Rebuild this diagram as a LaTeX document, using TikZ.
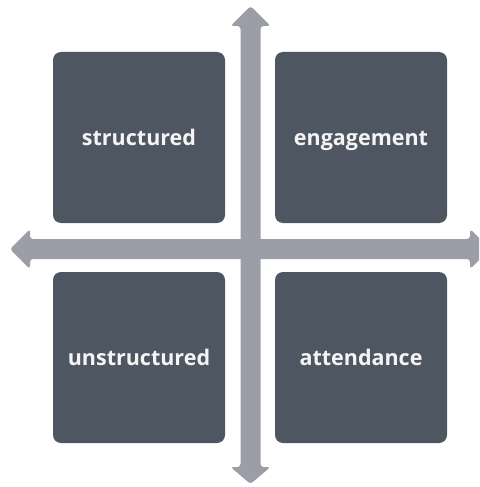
\documentclass[tikz,border=0pt]{standalone}
\usepackage{fontspec}
\setmainfont{Open Sans}
\begin{document}
\begin{tikzpicture}[x=1pt,y=-1pt,
  quad/.style={fill=boxgray, draw=none, rounded corners=8pt, minimum width=172pt, minimum height=171pt, inner sep=0pt, text height=15pt, text depth=0pt, text=textwhite, font=\fontsize{21.5}{24}\selectfont\bfseries},
  axis/.style={fill=axisgray, draw=none, rounded corners=3pt}]
\definecolor{boxgray}{HTML}{4E5661}
\definecolor{axisgray}{HTML}{9B9EA6}
\definecolor{textwhite}{HTML}{F4F4F4}
\clip (0,0) rectangle (479,487);
\fill[white] (0,0) rectangle (479,487);
% vertical axis
\coordinate (vt) at (250.5,6);
\coordinate (vb) at (250.5,484);
\fill[axis] (vt) -- (270.5,26) -- (260.5,26) -- (260.5,467) -- (270.5,467) -- (vb) -- (230.5,467) -- (240.5,467) -- (240.5,26) -- (230.5,26) -- cycle;
% horizontal axis
\coordinate (hl) at (10,249);
\coordinate (hr) at (490,249);
\fill[axis] (hl) -- (30,229) -- (30,239) -- (470,239) -- (470,229) -- (hr) -- (470,269) -- (470,259) -- (30,259) -- (30,269) -- cycle;
\node[quad] (tl) at (139,137.5) {structured};
\node[quad] (tr) at (361,137.5) {engagement};
\node[quad] (bl) at (139,357.5) {unstructured};
\node[quad] (br) at (361,357.5) {attendance};
\end{tikzpicture}
\end{document}
